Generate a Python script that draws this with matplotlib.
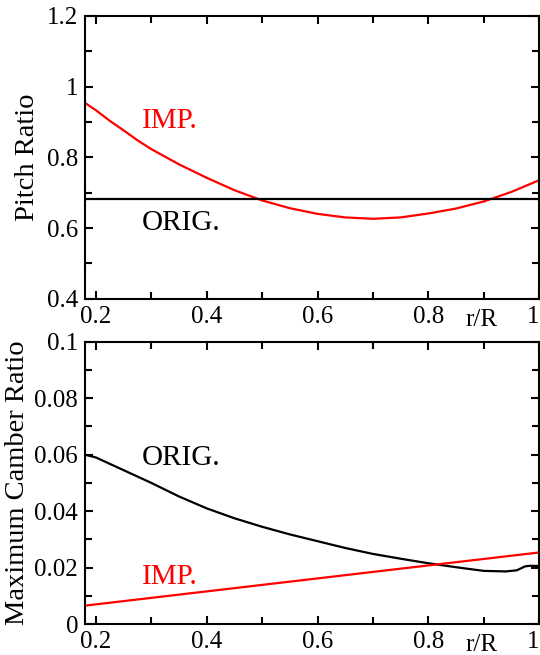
import matplotlib
matplotlib.use("Agg")
import matplotlib.pyplot as plt
from matplotlib.ticker import MultipleLocator, FuncFormatter

# radial stations r/R
r_pitch_imp = [0.18, 0.20, 0.225, 0.25, 0.275, 0.30, 0.35, 0.40, 0.45, 0.50, 0.55, 0.60,
               0.65, 0.70, 0.75, 0.80, 0.85, 0.90, 0.95, 1.00]
pitch_imp = [0.954, 0.933, 0.903, 0.876, 0.848, 0.823, 0.780, 0.742, 0.707, 0.678, 0.656, 0.640,
             0.630, 0.626, 0.630, 0.641, 0.655, 0.675, 0.702, 0.735]
r_pitch_orig = [0.18, 1.00]
pitch_orig = [0.682, 0.682]

r_camber_orig = [0.18, 0.20, 0.25, 0.30, 0.35, 0.40, 0.45, 0.50, 0.55, 0.60,
                 0.65, 0.70, 0.75, 0.80, 0.85, 0.90, 0.94, 0.96, 0.975, 0.985, 1.00]
camber_orig = [0.0600, 0.0590, 0.0545, 0.0500, 0.0452, 0.0410, 0.0375, 0.0345, 0.0318, 0.0294,
               0.0270, 0.0249, 0.0232, 0.0216, 0.0202, 0.0189, 0.0187, 0.0191, 0.0205, 0.0207, 0.0206]
r_camber_imp = [0.18, 1.00]
camber_imp = [0.0066, 0.0254]

plt.rcParams["font.family"] = ["Liberation Serif", "DejaVu Serif"]
plt.rcParams["axes.linewidth"] = 1.5

fig = plt.figure(figsize=(5.4, 6.55), dpi=100)
ax1 = fig.add_axes([0.1574, 0.544, 0.8407, 0.4316])
ax2 = fig.add_axes([0.1574, 0.0469, 0.8407, 0.4315])

fmt = FuncFormatter(lambda v, p: f"{v:g}")


def style(ax, ymajor, yminor):
    ax.xaxis.set_major_locator(MultipleLocator(0.2))
    ax.xaxis.set_minor_locator(MultipleLocator(0.1))
    ax.yaxis.set_major_locator(MultipleLocator(ymajor))
    ax.yaxis.set_minor_locator(MultipleLocator(yminor))
    ax.xaxis.set_major_formatter(fmt)
    ax.yaxis.set_major_formatter(fmt)
    ax.tick_params(which="both", direction="in", top=True, right=True,
                   width=1.5, labelsize=18)
    ax.tick_params(which="major", length=6, pad=5)
    ax.tick_params(which="minor", length=5)


# pitch ratio
ax1.plot(r_pitch_imp, pitch_imp, color="#ff0000", lw=1.6)
ax1.plot(r_pitch_orig, pitch_orig, color="black", lw=1.6)
ax1.set_xlim(0.18, 1.0)
ax1.set_ylim(0.4, 1.2)
style(ax1, 0.2, 0.1)
ax1.set_ylabel("Pitch Ratio", fontsize=20.5, labelpad=5)
ax1.text(0.283, 0.904, "IMP.", color="#ff0000", fontsize=21, va="center", ha="left")
ax1.text(0.283, 0.615, "ORIG.", color="black", fontsize=21, va="center", ha="left")
ax1.text(0.897, -0.035, "r/R", fontsize=18, ha="center", va="top",
         transform=ax1.get_xaxis_transform())

# maximum camber ratio
ax2.plot(r_camber_orig, camber_orig, color="black", lw=1.6)
ax2.plot(r_camber_imp, camber_imp, color="#ff0000", lw=1.6)
ax2.set_xlim(0.18, 1.0)
ax2.set_ylim(0.0, 0.1)
style(ax2, 0.02, 0.01)
ax2.set_ylabel("Maximum Camber Ratio", fontsize=20.5, labelpad=3)
ax2.text(0.283, 0.059, "ORIG.", color="black", fontsize=21, va="center", ha="left")
ax2.text(0.283, 0.0168, "IMP.", color="#ff0000", fontsize=21, va="center", ha="left")
ax2.text(0.897, -0.035, "r/R", fontsize=18, ha="center", va="top",
         transform=ax2.get_xaxis_transform())

# keep the "1" at the right edge inside the figure
fig.canvas.draw()
for ax in (ax1, ax2):
    for lab in ax.get_xticklabels():
        if lab.get_text() == "1":
            lab.set_ha("right")

fig.savefig("out.png", dpi=100)
